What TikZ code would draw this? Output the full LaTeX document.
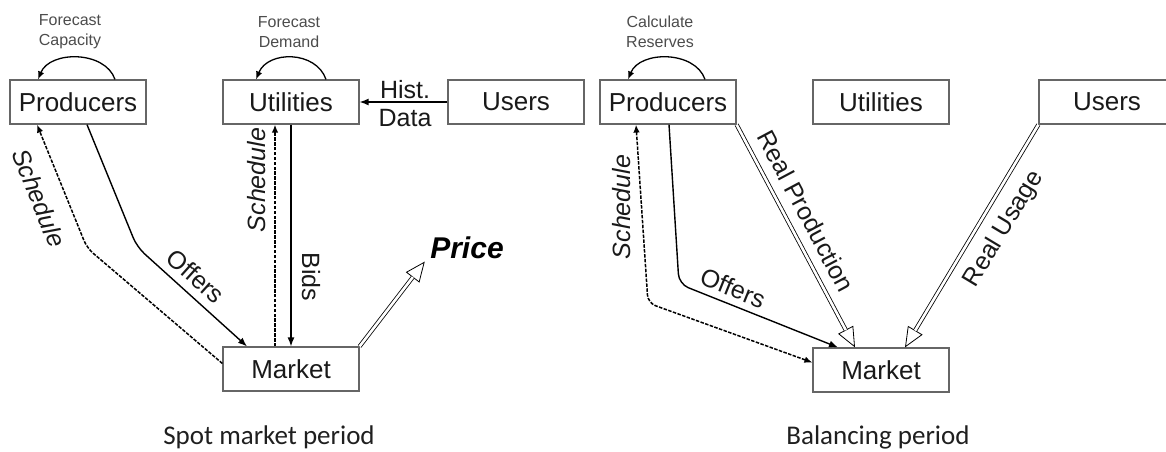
\documentclass[tikz,border=0pt]{standalone}
\usepackage{fontspec}
\setmainfont{Liberation Sans}
\newfontfamily\periodfont{Carlito}
\usetikzlibrary{arrows.meta}

\begin{document}
\begin{tikzpicture}[x=1pt,y=-1pt,
  box/.style={draw=black!60, line width=1.2pt, minimum width=136pt,
    minimum height=44pt, inner sep=0pt, text=black!90,
    font=\fontsize{26}{30}\selectfont},
  flow/.style={line width=1.4pt, -{Latex[length=9pt,width=7pt]}},
  loopflow/.style={line width=1.3pt, -{Latex[length=8pt,width=6.5pt]}},
  sched/.style={line width=1.5pt, dash pattern=on 3.5pt off 1.4pt,
    -{Latex[length=8pt,width=6.5pt]}},
  % open-headed arrow with a double shaft
  hollow/.style={line width=0.8pt, -{Triangle[open,length=20pt,width=17pt]},
    postaction={draw, arrows=-, line width=0.8pt, double=white,
      double distance=2.6pt, shorten >=19.6pt}},
  lbl/.style={font=\fontsize{25}{29}\selectfont, text=black!90},
  ilbl/.style={font=\itshape\fontsize{25}{29}\selectfont, text=black!90},
  note/.style={font=\fontsize{16}{20}\selectfont, text=black!70, align=center},
  period/.style={font=\periodfont\fontsize{27}{32}\selectfont, text=black!88, anchor=base},
]
\clip (0,0) rectangle (1166,451);

% ---------------- spot market period ----------------
\node[box] (prodL)   at (78,102)  {Producers};
\node[box] (utilL)   at (291,102) {Utilities};
\node[box] (usersL)  at (516,102) {Users};
\node[box] (marketL) at (291,369) {Market};
\node[font=\bfseries\itshape\fontsize{30}{34}\selectfont] (price) at (467,248) {Price};

% self loops with their notes
\draw[loopflow] ([xshift=37pt]prodL.north) .. controls +(-10,-29) and +(12,-29) .. ([xshift=-40pt]prodL.north);
\node[note] (fcap) at (70,32) {Forecast\\Capacity};
\draw[loopflow] ([xshift=35pt]utilL.north) .. controls +(-10,-29) and +(12,-29) .. ([xshift=-35pt]utilL.north);
\node[note] (fdem) at (289,32) {Forecast\\Demand};

% historical data from users to utilities
\draw[flow] (usersL.west) -- (utilL.east);
\node[lbl] (hist) at (405,90) {Hist.};
\node[lbl] (hdata) at (405,118) {Data};

% producers <-> market
\coordinate (offBendL) at (137,247);
\coordinate (schBendL) at (87,248);
\draw[flow, rounded corners=10pt] ([xshift=9pt]prodL.south) -- (offBendL) -- ([xshift=-44pt]marketL.north);
\draw[sched, rounded corners=8pt] ([yshift=5.5pt]marketL.west) -- (schBendL) -- ([xshift=-41pt]prodL.south);
\node[ilbl, rotate=-68] (schL1) at (39,198) {Schedule};
\node[lbl, rotate=-42] (offL) at (196,276) {Offers};

% utilities <-> market
\draw[sched] ([xshift=-16pt]marketL.north) -- ([xshift=-16pt]utilL.south);
\draw[flow] (utilL.south) -- (marketL.north);
\node[ilbl, rotate=90] (schL2) at (257,180) {Schedule};
\node[lbl, rotate=-90] (bids) at (311,277) {Bids};

% price
\draw[hollow] (marketL.north east) -- ([xshift=-2pt,yshift=1pt]price.south west);

% ---------------- balancing period ----------------
\node[box] (prodR)   at (668,102)  {Producers};
\node[box] (utilR)   at (881,102)  {Utilities};
\node[box] (usersR)  at (1107,102) {Users};
\node[box] (marketR) at (881,370)  {Market};

\draw[loopflow] ([xshift=37pt]prodR.north) .. controls +(-10,-29) and +(12,-29) .. ([xshift=-40pt]prodR.north);
\node[note] (calc) at (660,32) {Calculate\\Reserves};

\coordinate (schBendR) at (648,303);
\coordinate (offBendR) at (679,284);
\draw[sched, {Latex[length=8pt,width=6.5pt]}-{Latex[length=8pt,width=6.5pt]}, rounded corners=8pt]
  ([xshift=-32pt]prodR.south) -- (schBendR) -- ([yshift=7.5pt]marketR.west);
\draw[flow, rounded corners=10pt] ([xshift=1pt]prodR.south) -- (offBendR) -- ([xshift=-43pt]marketR.north);
\node[ilbl, rotate=90] (schR) at (622,207) {Schedule};
\node[lbl, rotate=-22] (offR) at (733,288) {Offers};

\draw[hollow] (prodR.south east) -- ([xshift=-26pt]marketR.north);
\draw[hollow] (usersR.south west) -- ([xshift=24pt]marketR.north);
\node[lbl, rotate=-62] (realprod) at (806,211) {Real Production};
\node[lbl, rotate=59] (realuse) at (1004,229) {Real Usage};

% period captions
\node[period] (spot) at (269,444) {Spot market period};
\node[period] (bal) at (878,444) {Balancing period};
\end{tikzpicture}
\end{document}
